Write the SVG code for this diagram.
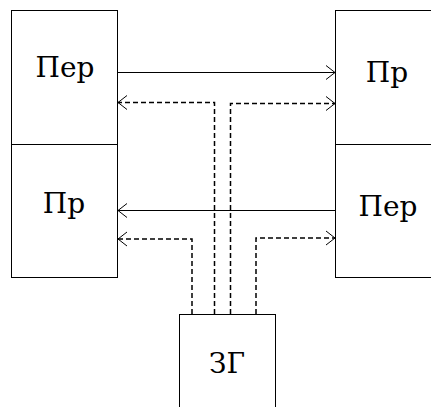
<svg xmlns="http://www.w3.org/2000/svg" width="431" height="407" viewBox="0 0 431 407">
<defs>
<style>
.box{fill:#fff;stroke:#000;stroke-width:1}
.t{font-family:'DejaVu Serif','Liberation Serif',serif;font-size:28px;fill:#000;text-anchor:middle}
.s{fill:none;stroke:#000;stroke-width:1}
.d{fill:none;stroke:#000;stroke-width:1.5;stroke-dasharray:5,3}
</style>
<marker id="a" markerWidth="12" markerHeight="16" refX="10" refY="8" orient="auto" markerUnits="userSpaceOnUse">
<path d="M1,1 L10,8 L1,15" fill="none" stroke="#000" stroke-width="1"/>
</marker>
</defs>
<g id="per1"><rect class="box" x="11.5" y="10.5" width="106" height="134"/><text class="t" x="65" y="77">Пер</text></g>
<g id="pr1"><rect class="box" x="11.5" y="144.5" width="106" height="133"/><text class="t" x="64" y="213">Пр</text></g>
<g id="pr2"><rect class="box" x="335.5" y="10.5" width="110" height="134"/><text class="t" x="387" y="82">Пр</text></g>
<g id="per2"><rect class="box" x="335.5" y="144.5" width="110" height="133"/><text class="t" x="388" y="216">Пер</text></g>
<g id="zg"><rect class="box" x="179.5" y="314.5" width="96" height="100"/><text class="t" x="227" y="373">ЗГ</text></g>
<g id="connectors">
<line class="s" x1="118" y1="72.5" x2="335" y2="72.5" marker-end="url(#a)"/>
<line class="s" x1="335" y1="210.5" x2="118" y2="210.5" marker-end="url(#a)"/>
<polyline class="d" points="214.5,314 214.5,102.5 118,102.5" marker-end="url(#a)"/>
<polyline class="d" points="230.5,314 230.5,103.5 335,103.5" marker-end="url(#a)"/>
<polyline class="d" points="192,314 192,239 118,239" marker-end="url(#a)"/>
<polyline class="d" points="256,314 256,238 335,238" marker-end="url(#a)"/>
</g>
</svg>
